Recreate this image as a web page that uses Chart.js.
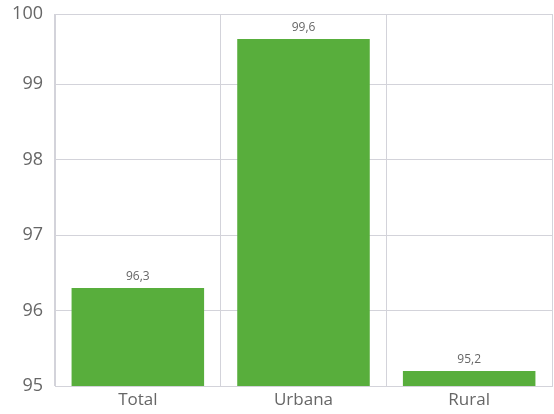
<!DOCTYPE html>
<html>
<head>
<meta charset="utf-8">
<script src="https://cdn.jsdelivr.net/npm/chart.js@4"></script>
<style>
  html, body { margin: 0; padding: 0; background: #fff; }
  #wrap { width: 554px; height: 414px; }
</style>
</head>
<body>
<div id="wrap"><canvas id="chart" width="554" height="414"></canvas></div>
<script>
// data
const categories = ['Total', 'Urbana', 'Rural'];
const values = [96.3, 99.6, 95.2];
const yTicks = [95, 96, 97, 98, 99, 100];

const yMin = 95;
const yMax = 99.93; // top line sits a bit under a full step in the reference

// value labels above the bars, comma decimal
const barLabels = {
  id: 'bar_labels',
  afterDatasetsDraw: (chart) => {
    const ctx = chart.ctx;
    const meta = chart.getDatasetMeta(0);
    ctx.save();
    ctx.font = '12px "Open Sans"';
    ctx.fillStyle = '#666';
    ctx.textAlign = 'center';
    ctx.textBaseline = 'bottom';
    meta.data.forEach((bar, i) => {
      ctx.fillText(values[i].toFixed(1).replace('.', ','), bar.x, bar.y - 5);
    });
    ctx.restore();
  }
};

new Chart(document.getElementById('chart').getContext('2d'), {
  type: 'bar',
  data: {
    labels: categories,
    datasets: [{
      data: values,
      backgroundColor: '#58ae3c',
      borderWidth: 0,
      barPercentage: 0.8,
      categoryPercentage: 1.0
    }]
  },
  options: {
    responsive: false,
    animation: false,
    layout: { padding: { top: 14, right: 2, bottom: 0, left: 0 } },
    plugins: {
      legend: { display: false },
      tooltip: { enabled: false }
    },
    scales: {
      x: {
        afterFit: (axis) => { axis.height = 28; },
        grid: { color: '#d3d3da', lineWidth: 1, drawTicks: false },
        border: { color: '#d3d3da' },
        ticks: { color: '#666', font: { family: 'Open Sans', size: 17 }, padding: 4 }
      },
      y: {
        min: yMin,
        max: yMax,
        afterBuildTicks: (axis) => {
          axis.ticks = yTicks.map(v => ({ value: Math.min(v, yMax), label: String(v) }));
        },
        afterFit: (axis) => {
          axis.width = 55;
          axis.paddingTop = 0;
          axis.paddingBottom = 0;
        },
        grid: { color: '#d3d3da', lineWidth: 1, drawTicks: false },
        border: { color: '#d3d3da' },
        ticks: {
          color: '#666',
          font: { family: 'Open Sans', size: 18 },
          padding: 12,
          callback: function(v, i) { return String(yTicks[i]); }
        }
      }
    }
  },
  plugins: [barLabels]
});
</script>
</body>
</html>
